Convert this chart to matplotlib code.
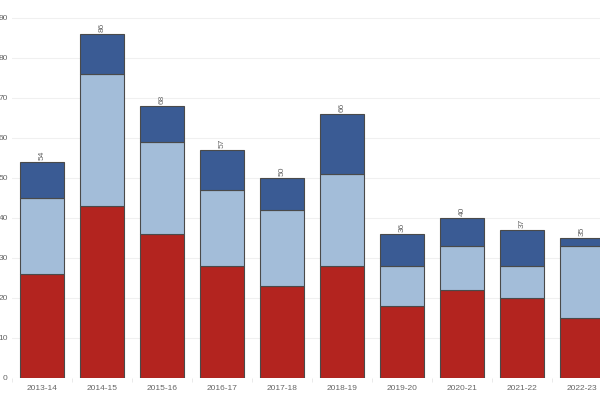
import numpy as np
import matplotlib
matplotlib.use('Agg')
import matplotlib.pyplot as plt

# datos
seasons = ['2013-14', '2014-15', '2015-16', '2016-17', '2017-18',
           '2018-19', '2019-20', '2020-21', '2021-22', '2022-23']
red_vals = [26, 43, 36, 28, 23, 28, 18, 22, 20, 15]
light_vals = [19, 33, 23, 19, 19, 23, 10, 11, 8, 18]
dark_vals = [9, 10, 9, 10, 8, 15, 8, 7, 9, 2]

red_color = '#B3241F'
light_color = '#A3BDD9'
dark_color = '#3A5B94'
edge_color = '#4a4a4a'
text_color = '#666666'

plt.rcParams['font.family'] = ['Liberation Sans', 'DejaVu Sans']

fig = plt.figure(figsize=(6, 4), dpi=100)
# ejes un poco fuera de la figura, como en el recorte original
ax = fig.add_axes([12 / 600, 22 / 400, 600 / 600, 372 / 400])

x = np.arange(len(seasons))
red = np.array(red_vals)
light = np.array(light_vals)
dark = np.array(dark_vals)
totals = red + light + dark

w = 0.73
kw = dict(width=w, edgecolor=edge_color, linewidth=0.8, zorder=3)
ax.bar(x, red, color=red_color, **kw)
ax.bar(x, light, bottom=red, color=light_color, **kw)
ax.bar(x, dark, bottom=red + light, color=dark_color, **kw)

for xi, t in zip(x, totals):
    ax.text(xi, t + 0.6, str(t), rotation=90, ha='center', va='bottom',
            fontsize=6, color=text_color)

ax.set_xlim(-0.5, len(seasons) - 0.5)
ax.set_ylim(0, 93)
ax.set_yticks(range(0, 100, 10))
ax.set_xticks(x)
ax.set_xticklabels(seasons)
ax.tick_params(axis='both', length=0, labelsize=6, colors=text_color)
ax.tick_params(axis='y', pad=3)
ax.tick_params(axis='x', pad=5)
ax.set_xticks(np.arange(-0.5, len(seasons), 1), minor=True)
ax.tick_params(axis='x', which='minor', length=3, color='#e6e6e6')

ax.grid(axis='y', color='#f0f0f0', linewidth=0.8, zorder=0)
for s in ax.spines.values():
    s.set_visible(False)

plt.savefig('out.png', dpi=100)
plt.close()
